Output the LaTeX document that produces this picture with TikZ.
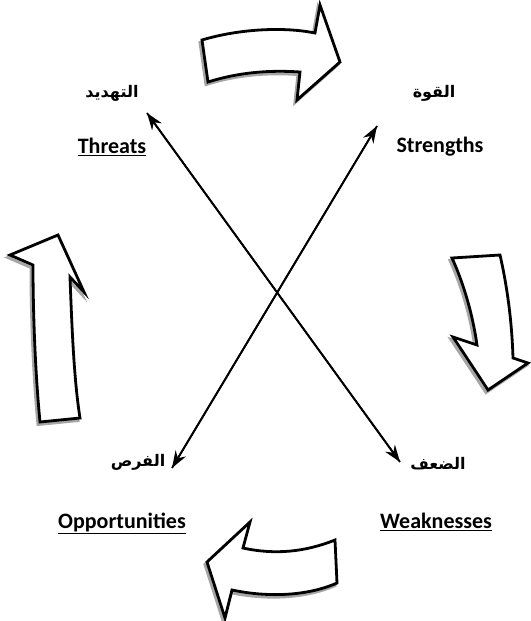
\documentclass[tikz,border=0pt]{standalone}
\usepackage{fontspec}
\setmainfont{Carlito}
\newfontfamily\arabicfont[Script=Arabic]{DejaVu Sans}
\TeXXeTstate=1
\usetikzlibrary{arrows.meta}
\begin{document}
\begin{tikzpicture}[x=1pt,y=-1pt,
  lbl/.style={font=\bfseries\fontsize{22}{24}\selectfont,inner sep=0pt},
  ar/.style={font=\arabicfont\bfseries\fontsize{16}{18}\selectfont,inner sep=0pt},
  conn/.style={line width=1.8pt,-{Stealth[length=17pt,width=12pt]}},
  blk/.style={line width=2.8pt,line join=miter,fill=white},
  shd/.style={line width=3pt,line join=miter,draw=black!35,shift={(-2,2.5)}}]
\useasboundingbox (0,0) rectangle (530,621);
% labels
\node[ar] (tA) at (112,93) {\beginR التهديد\endR};
\node[lbl] (tE) at (112,147) {\underline{Threats}};
\node[ar] (sA) at (434,93) {\beginR القوة\endR};
\node[lbl] (sE) at (440,147) {Strengths};
\node[ar] (oA) at (138,462) {\beginR الفرص\endR};
\node[lbl] (oE) at (122,523) {\underline{Opportunities}};
\node[ar] (wA) at (438,464) {\beginR الضعف\endR};
\node[lbl] (wE) at (436,522) {\underline{Weaknesses}};
% cross arrows
\coordinate (nw) at (147,113);
\coordinate (se) at (400,462);
\coordinate (ne) at (377,126);
\coordinate (sw) at (172,468);
\draw[conn] (se) -- (nw);
\draw[conn] (nw) -- (se);
\draw[conn] (sw) -- (ne);
\draw[conn] (ne) -- (sw);
% block arrow paths
\def\blkTop{(202,40) .. controls (235,30) and (280,26) .. (315,33) -- (320,5) -- (340,62) -- (297,100) -- (300,72)
  .. controls (270,70) and (240,72) .. (208,82) -- cycle}
\def\blkRight{(452,258) -- (500,255) .. controls (508,290) and (512,325) .. (513,358) -- (528,363) -- (488,390) -- (453,337) -- (477,345)
  .. controls (472,310) and (462,280) .. (452,258) -- cycle}
\def\blkBottom{(207,562) -- (250,522) -- (243,548) .. controls (275,555) and (305,552) .. (335,540) -- (337,583)
  .. controls (305,597) and (265,597) .. (232,590) -- (225,618) -- cycle}
\def\blkLeft{(58,235) -- (84,292) -- (70,277) .. controls (72,330) and (74,380) .. (80,418) -- (40,422)
  .. controls (35,370) and (33,310) .. (33,265) -- (10,255) -- cycle}
\draw[shd] \blkTop;
\draw[shd] \blkRight;
\draw[shd] \blkBottom;
\draw[shd] \blkLeft;
\draw[blk] \blkTop;
\draw[blk] \blkRight;
\draw[blk] \blkBottom;
\draw[blk] \blkLeft;
\end{tikzpicture}
\end{document}
